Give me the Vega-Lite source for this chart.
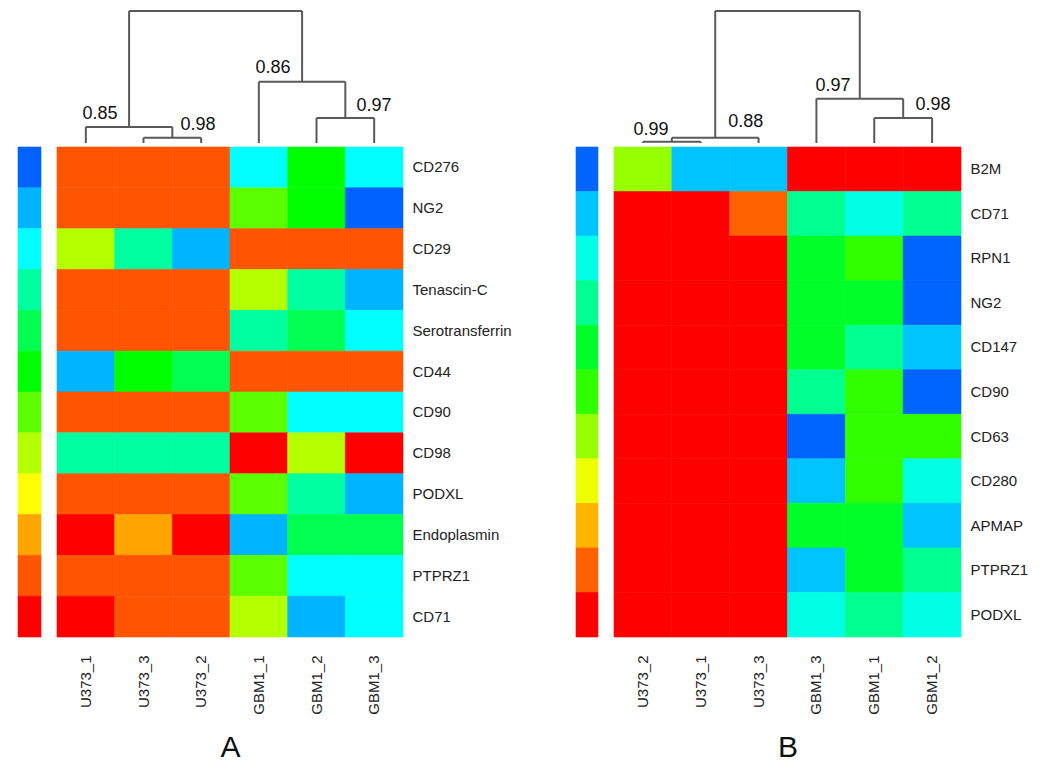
{
  "$schema": "https://vega.github.io/schema/vega-lite/v6.json",
  "padding": {"left": 17, "top": 10, "right": 5, "bottom": 5},
  "background": "white",
  "config": {
    "view": {"stroke": null},
    "font": "Liberation Sans",
    "axis": {"grid": false, "ticks": false, "domain": false, "labelFont": "Liberation Sans", "labelColor": "#222"}
  },
  "spacing": 63,
  "resolve": {"scale": {"color": "independent", "stroke": "independent", "x": "independent", "y": "independent"}},
  "datasets": {
    "heatA": [
      {"gene": "CD276", "U373_1": 11, "U373_3": 11, "U373_2": 11, "GBM1_1": 3, "GBM1_2": 6, "GBM1_3": 3},
      {"gene": "NG2", "U373_1": 11, "U373_3": 11, "U373_2": 11, "GBM1_1": 7, "GBM1_2": 6, "GBM1_3": 1},
      {"gene": "CD29", "U373_1": 8, "U373_3": 4, "U373_2": 2, "GBM1_1": 11, "GBM1_2": 11, "GBM1_3": 11},
      {"gene": "Tenascin-C", "U373_1": 11, "U373_3": 11, "U373_2": 11, "GBM1_1": 8, "GBM1_2": 4, "GBM1_3": 2},
      {"gene": "Serotransferrin", "U373_1": 11, "U373_3": 11, "U373_2": 11, "GBM1_1": 4, "GBM1_2": 5, "GBM1_3": 3},
      {"gene": "CD44", "U373_1": 2, "U373_3": 6, "U373_2": 5, "GBM1_1": 11, "GBM1_2": 11, "GBM1_3": 11},
      {"gene": "CD90", "U373_1": 11, "U373_3": 11, "U373_2": 11, "GBM1_1": 7, "GBM1_2": 3, "GBM1_3": 3},
      {"gene": "CD98", "U373_1": 4, "U373_3": 4, "U373_2": 4, "GBM1_1": 12, "GBM1_2": 8, "GBM1_3": 12},
      {"gene": "PODXL", "U373_1": 11, "U373_3": 11, "U373_2": 11, "GBM1_1": 7, "GBM1_2": 4, "GBM1_3": 2},
      {"gene": "Endoplasmin", "U373_1": 12, "U373_3": 10, "U373_2": 12, "GBM1_1": 2, "GBM1_2": 5, "GBM1_3": 5},
      {"gene": "PTPRZ1", "U373_1": 11, "U373_3": 11, "U373_2": 11, "GBM1_1": 7, "GBM1_2": 3, "GBM1_3": 3},
      {"gene": "CD71", "U373_1": 12, "U373_3": 11, "U373_2": 11, "GBM1_1": 8, "GBM1_2": 2, "GBM1_3": 3}
    ],
    "heatB": [
      {"gene": "B2M", "U373_2": 7, "U373_1": 2, "U373_3": 2, "GBM1_3": 11, "GBM1_1": 11, "GBM1_2": 11},
      {"gene": "CD71", "U373_2": 11, "U373_1": 11, "U373_3": 10, "GBM1_3": 4, "GBM1_1": 3, "GBM1_2": 4},
      {"gene": "RPN1", "U373_2": 11, "U373_1": 11, "U373_3": 11, "GBM1_3": 5, "GBM1_1": 6, "GBM1_2": 1},
      {"gene": "NG2", "U373_2": 11, "U373_1": 11, "U373_3": 11, "GBM1_3": 5, "GBM1_1": 5, "GBM1_2": 1},
      {"gene": "CD147", "U373_2": 11, "U373_1": 11, "U373_3": 11, "GBM1_3": 5, "GBM1_1": 4, "GBM1_2": 2},
      {"gene": "CD90", "U373_2": 11, "U373_1": 11, "U373_3": 11, "GBM1_3": 4, "GBM1_1": 6, "GBM1_2": 1},
      {"gene": "CD63", "U373_2": 11, "U373_1": 11, "U373_3": 11, "GBM1_3": 1, "GBM1_1": 6, "GBM1_2": 6},
      {"gene": "CD280", "U373_2": 11, "U373_1": 11, "U373_3": 11, "GBM1_3": 2, "GBM1_1": 6, "GBM1_2": 3},
      {"gene": "APMAP", "U373_2": 11, "U373_1": 11, "U373_3": 11, "GBM1_3": 5, "GBM1_1": 5, "GBM1_2": 2},
      {"gene": "PTPRZ1", "U373_2": 11, "U373_1": 11, "U373_3": 11, "GBM1_3": 2, "GBM1_1": 5, "GBM1_2": 4},
      {"gene": "PODXL", "U373_2": 11, "U373_1": 11, "U373_3": 11, "GBM1_3": 3, "GBM1_1": 4, "GBM1_2": 3}
    ],
    "keyA": [{"level": 1}, {"level": 2}, {"level": 3}, {"level": 4}, {"level": 5}, {"level": 6}, {"level": 7}, {"level": 8}, {"level": 9}, {"level": 10}, {"level": 11}, {"level": 12}],
    "keyB": [{"level": 1}, {"level": 2}, {"level": 3}, {"level": 4}, {"level": 5}, {"level": 6}, {"level": 7}, {"level": 8}, {"level": 9}, {"level": 10}, {"level": 11}],
    "dendA": [
      {"x": 1.5, "x2": 2.5, "h": 0.04, "h2": 0.04},
      {"x": 0.5, "x2": 2.0, "h": 0.121, "h2": 0.121},
      {"x": 4.5, "x2": 5.5, "h": 0.19, "h2": 0.19},
      {"x": 3.5, "x2": 5.0, "h": 0.464, "h2": 0.464},
      {"x": 1.25, "x2": 4.25, "h": 1, "h2": 1},
      {"x": 0.5, "x2": 0.5, "h": 0, "h2": 0.121},
      {"x": 1.5, "x2": 1.5, "h": 0, "h2": 0.04},
      {"x": 2.5, "x2": 2.5, "h": 0, "h2": 0.04},
      {"x": 2.0, "x2": 2.0, "h": 0.04, "h2": 0.121},
      {"x": 3.5, "x2": 3.5, "h": 0, "h2": 0.464},
      {"x": 4.5, "x2": 4.5, "h": 0, "h2": 0.19},
      {"x": 5.5, "x2": 5.5, "h": 0, "h2": 0.19},
      {"x": 5.0, "x2": 5.0, "h": 0.19, "h2": 0.464},
      {"x": 1.25, "x2": 1.25, "h": 0.121, "h2": 1},
      {"x": 4.25, "x2": 4.25, "h": 0.464, "h2": 1}
    ],
    "labA": [
      {"label": "0.85", "lx": 0.746, "ly": 0.22},
      {"label": "0.98", "lx": 2.445, "ly": 0.136},
      {"label": "0.86", "lx": 3.745, "ly": 0.568},
      {"label": "0.97", "lx": 5.497, "ly": 0.28}
    ],
    "dendB": [
      {"x": 0.5, "x2": 1.5, "h": 0.01, "h2": 0.01},
      {"x": 1.0, "x2": 2.5, "h": 0.04, "h2": 0.04},
      {"x": 4.5, "x2": 5.5, "h": 0.19, "h2": 0.19},
      {"x": 3.5, "x2": 5.0, "h": 0.336, "h2": 0.336},
      {"x": 1.75, "x2": 4.25, "h": 1, "h2": 1},
      {"x": 0.5, "x2": 0.5, "h": 0, "h2": 0.01},
      {"x": 1.5, "x2": 1.5, "h": 0, "h2": 0.01},
      {"x": 1.0, "x2": 1.0, "h": 0.01, "h2": 0.04},
      {"x": 2.5, "x2": 2.5, "h": 0, "h2": 0.04},
      {"x": 3.5, "x2": 3.5, "h": 0, "h2": 0.336},
      {"x": 4.5, "x2": 4.5, "h": 0, "h2": 0.19},
      {"x": 5.5, "x2": 5.5, "h": 0, "h2": 0.19},
      {"x": 5.0, "x2": 5.0, "h": 0.19, "h2": 0.336},
      {"x": 1.75, "x2": 1.75, "h": 0.04, "h2": 1},
      {"x": 4.25, "x2": 4.25, "h": 0.336, "h2": 1}
    ],
    "labB": [
      {"label": "0.99", "lx": 0.64, "ly": 0.098},
      {"label": "0.88", "lx": 2.28, "ly": 0.159},
      {"label": "0.97", "lx": 3.787, "ly": 0.432},
      {"label": "0.98", "lx": 5.516, "ly": 0.288}
    ]
  },
  "hconcat": [
    {
      "spacing": 14,
      "resolve": {"scale": {"x": "independent", "y": "independent"}},
      "hconcat": [
        {
          "bounds": "flush",
          "spacing": 4,
          "resolve": {"scale": {"x": "independent", "y": "independent"}},
          "vconcat": [
            {"width": 23, "height": 132, "data": {"values": []}, "mark": {"type": "rect", "opacity": 0}},
            {
              "width": 23, "height": 490,
              "data": {"name": "keyA"},
              "mark": {"type": "rect", "strokeWidth": 0.6},
              "encoding": {
                "y": {"field": "level", "type": "ordinal", "axis": null, "scale": {"paddingInner": 0, "paddingOuter": 0}},
                "color": {"field": "level", "type": "ordinal", "legend": null,
                  "scale": {"domain": [1,2,3,4,5,6,7,8,9,10,11,12], "range": ["#0062FF","#00B4FF","#00FFFF","#00FFA0","#00FF50","#00FF00","#5CFF00","#B4FF00","#FFFF00","#FFA500","#FF5500","#FF0000"]}},
                "stroke": {"field": "level", "type": "ordinal", "legend": null,
                  "scale": {"domain": [1,2,3,4,5,6,7,8,9,10,11,12], "range": ["#0062FF","#00B4FF","#00FFFF","#00FFA0","#00FF50","#00FF00","#5CFF00","#B4FF00","#FFFF00","#FFA500","#FF5500","#FF0000"]}}
              }
            }
          ]
        },
        {
          "bounds": "flush",
          "spacing": 4,
          "resolve": {"scale": {"x": "independent", "y": "independent"}},
          "vconcat": [
            {
              "width": 346, "height": 132,
              "layer": [
                {
                  "data": {"name": "dendA"},
                  "mark": {"type": "rule", "color": "#5a5a5a", "strokeWidth": 2},
                  "encoding": {
                    "x": {"field": "x", "type": "quantitative", "axis": null, "scale": {"domain": [0, 6], "nice": false, "zero": false}},
                    "x2": {"field": "x2"},
                    "y": {"field": "h", "type": "quantitative", "axis": null, "scale": {"domain": [0, 1], "nice": false}},
                    "y2": {"field": "h2"}
                  }
                },
                {
                  "data": {"name": "labA"},
                  "mark": {"type": "text", "fontSize": 18, "color": "#111", "align": "center", "baseline": "middle"},
                  "encoding": {
                    "x": {"field": "lx", "type": "quantitative"},
                    "y": {"field": "ly", "type": "quantitative"},
                    "text": {"field": "label"}
                  }
                }
              ]
            },
            {
              "width": 346, "height": 490,
              "data": {"name": "heatA"},
              "transform": [{"fold": ["U373_1", "U373_3", "U373_2", "GBM1_1", "GBM1_2", "GBM1_3"], "as": ["sample", "level"]}],
              "mark": {"type": "rect", "strokeWidth": 0.6},
              "encoding": {
                "x": {"field": "sample", "type": "nominal", "sort": ["U373_1", "U373_3", "U373_2", "GBM1_1", "GBM1_2", "GBM1_3"],
                  "scale": {"paddingInner": 0, "paddingOuter": 0},
                  "axis": {"orient": "bottom", "labelAngle": -90, "labelFontSize": 15, "labelPadding": 18, "title": "A", "titleFontSize": 30, "titleFontWeight": "normal", "titlePadding": 18, "titleColor": "#111"}},
                "y": {"field": "gene", "type": "nominal", "sort": ["CD276", "NG2", "CD29", "Tenascin-C", "Serotransferrin", "CD44", "CD90", "CD98", "PODXL", "Endoplasmin", "PTPRZ1", "CD71"],
                  "scale": {"paddingInner": 0, "paddingOuter": 0},
                  "axis": {"orient": "right", "labelFontSize": 15, "labelPadding": 9, "title": null}},
                "color": {"field": "level", "type": "ordinal", "legend": null,
                  "scale": {"domain": [1,2,3,4,5,6,7,8,9,10,11,12], "range": ["#0062FF","#00B4FF","#00FFFF","#00FFA0","#00FF50","#00FF00","#5CFF00","#B4FF00","#FFFF00","#FFA500","#FF5500","#FF0000"]}},
                "stroke": {"field": "level", "type": "ordinal", "legend": null,
                  "scale": {"domain": [1,2,3,4,5,6,7,8,9,10,11,12], "range": ["#0062FF","#00B4FF","#00FFFF","#00FFA0","#00FF50","#00FF00","#5CFF00","#B4FF00","#FFFF00","#FFA500","#FF5500","#FF0000"]}}
              }
            }
          ]
        }
      ]
    },
    {
      "spacing": 14,
      "resolve": {"scale": {"x": "independent", "y": "independent"}},
      "hconcat": [
        {
          "bounds": "flush",
          "spacing": 4,
          "resolve": {"scale": {"x": "independent", "y": "independent"}},
          "vconcat": [
            {"width": 22, "height": 132, "data": {"values": []}, "mark": {"type": "rect", "opacity": 0}},
            {
              "width": 22, "height": 490,
              "data": {"name": "keyB"},
              "mark": {"type": "rect", "strokeWidth": 0.6},
              "encoding": {
                "y": {"field": "level", "type": "ordinal", "axis": null, "scale": {"paddingInner": 0, "paddingOuter": 0}},
                "color": {"field": "level", "type": "ordinal", "legend": null,
                  "scale": {"domain": [1,2,3,4,5,6,7,8,9,10,11], "range": ["#0064FF","#00C4FF","#00FFE4","#00FF90","#00FF28","#30FF00","#96FF00","#EEFF00","#FFB400","#FF6000","#FF0000"]}},
                "stroke": {"field": "level", "type": "ordinal", "legend": null,
                  "scale": {"domain": [1,2,3,4,5,6,7,8,9,10,11], "range": ["#0064FF","#00C4FF","#00FFE4","#00FF90","#00FF28","#30FF00","#96FF00","#EEFF00","#FFB400","#FF6000","#FF0000"]}}
              }
            }
          ]
        },
        {
          "bounds": "flush",
          "spacing": 4,
          "resolve": {"scale": {"x": "independent", "y": "independent"}},
          "vconcat": [
            {
              "width": 347, "height": 132,
              "layer": [
                {
                  "data": {"name": "dendB"},
                  "mark": {"type": "rule", "color": "#5a5a5a", "strokeWidth": 2},
                  "encoding": {
                    "x": {"field": "x", "type": "quantitative", "axis": null, "scale": {"domain": [0, 6], "nice": false, "zero": false}},
                    "x2": {"field": "x2"},
                    "y": {"field": "h", "type": "quantitative", "axis": null, "scale": {"domain": [0, 1], "nice": false}},
                    "y2": {"field": "h2"}
                  }
                },
                {
                  "data": {"name": "labB"},
                  "mark": {"type": "text", "fontSize": 18, "color": "#111", "align": "center", "baseline": "middle"},
                  "encoding": {
                    "x": {"field": "lx", "type": "quantitative"},
                    "y": {"field": "ly", "type": "quantitative"},
                    "text": {"field": "label"}
                  }
                }
              ]
            },
            {
              "width": 347, "height": 490,
              "data": {"name": "heatB"},
              "transform": [{"fold": ["U373_2", "U373_1", "U373_3", "GBM1_3", "GBM1_1", "GBM1_2"], "as": ["sample", "level"]}],
              "mark": {"type": "rect", "strokeWidth": 0.6},
              "encoding": {
                "x": {"field": "sample", "type": "nominal", "sort": ["U373_2", "U373_1", "U373_3", "GBM1_3", "GBM1_1", "GBM1_2"],
                  "scale": {"paddingInner": 0, "paddingOuter": 0},
                  "axis": {"orient": "bottom", "labelAngle": -90, "labelFontSize": 15, "labelPadding": 18, "title": "B", "titleFontSize": 30, "titleFontWeight": "normal", "titlePadding": 18, "titleColor": "#111"}},
                "y": {"field": "gene", "type": "nominal", "sort": ["B2M", "CD71", "RPN1", "NG2", "CD147", "CD90", "CD63", "CD280", "APMAP", "PTPRZ1", "PODXL"],
                  "scale": {"paddingInner": 0, "paddingOuter": 0},
                  "axis": {"orient": "right", "labelFontSize": 15, "labelPadding": 9, "title": null}},
                "color": {"field": "level", "type": "ordinal", "legend": null,
                  "scale": {"domain": [1,2,3,4,5,6,7,8,9,10,11], "range": ["#0064FF","#00C4FF","#00FFE4","#00FF90","#00FF28","#30FF00","#96FF00","#EEFF00","#FFB400","#FF6000","#FF0000"]}},
                "stroke": {"field": "level", "type": "ordinal", "legend": null,
                  "scale": {"domain": [1,2,3,4,5,6,7,8,9,10,11], "range": ["#0064FF","#00C4FF","#00FFE4","#00FF90","#00FF28","#30FF00","#96FF00","#EEFF00","#FFB400","#FF6000","#FF0000"]}}
              }
            }
          ]
        }
      ]
    }
  ]
}
